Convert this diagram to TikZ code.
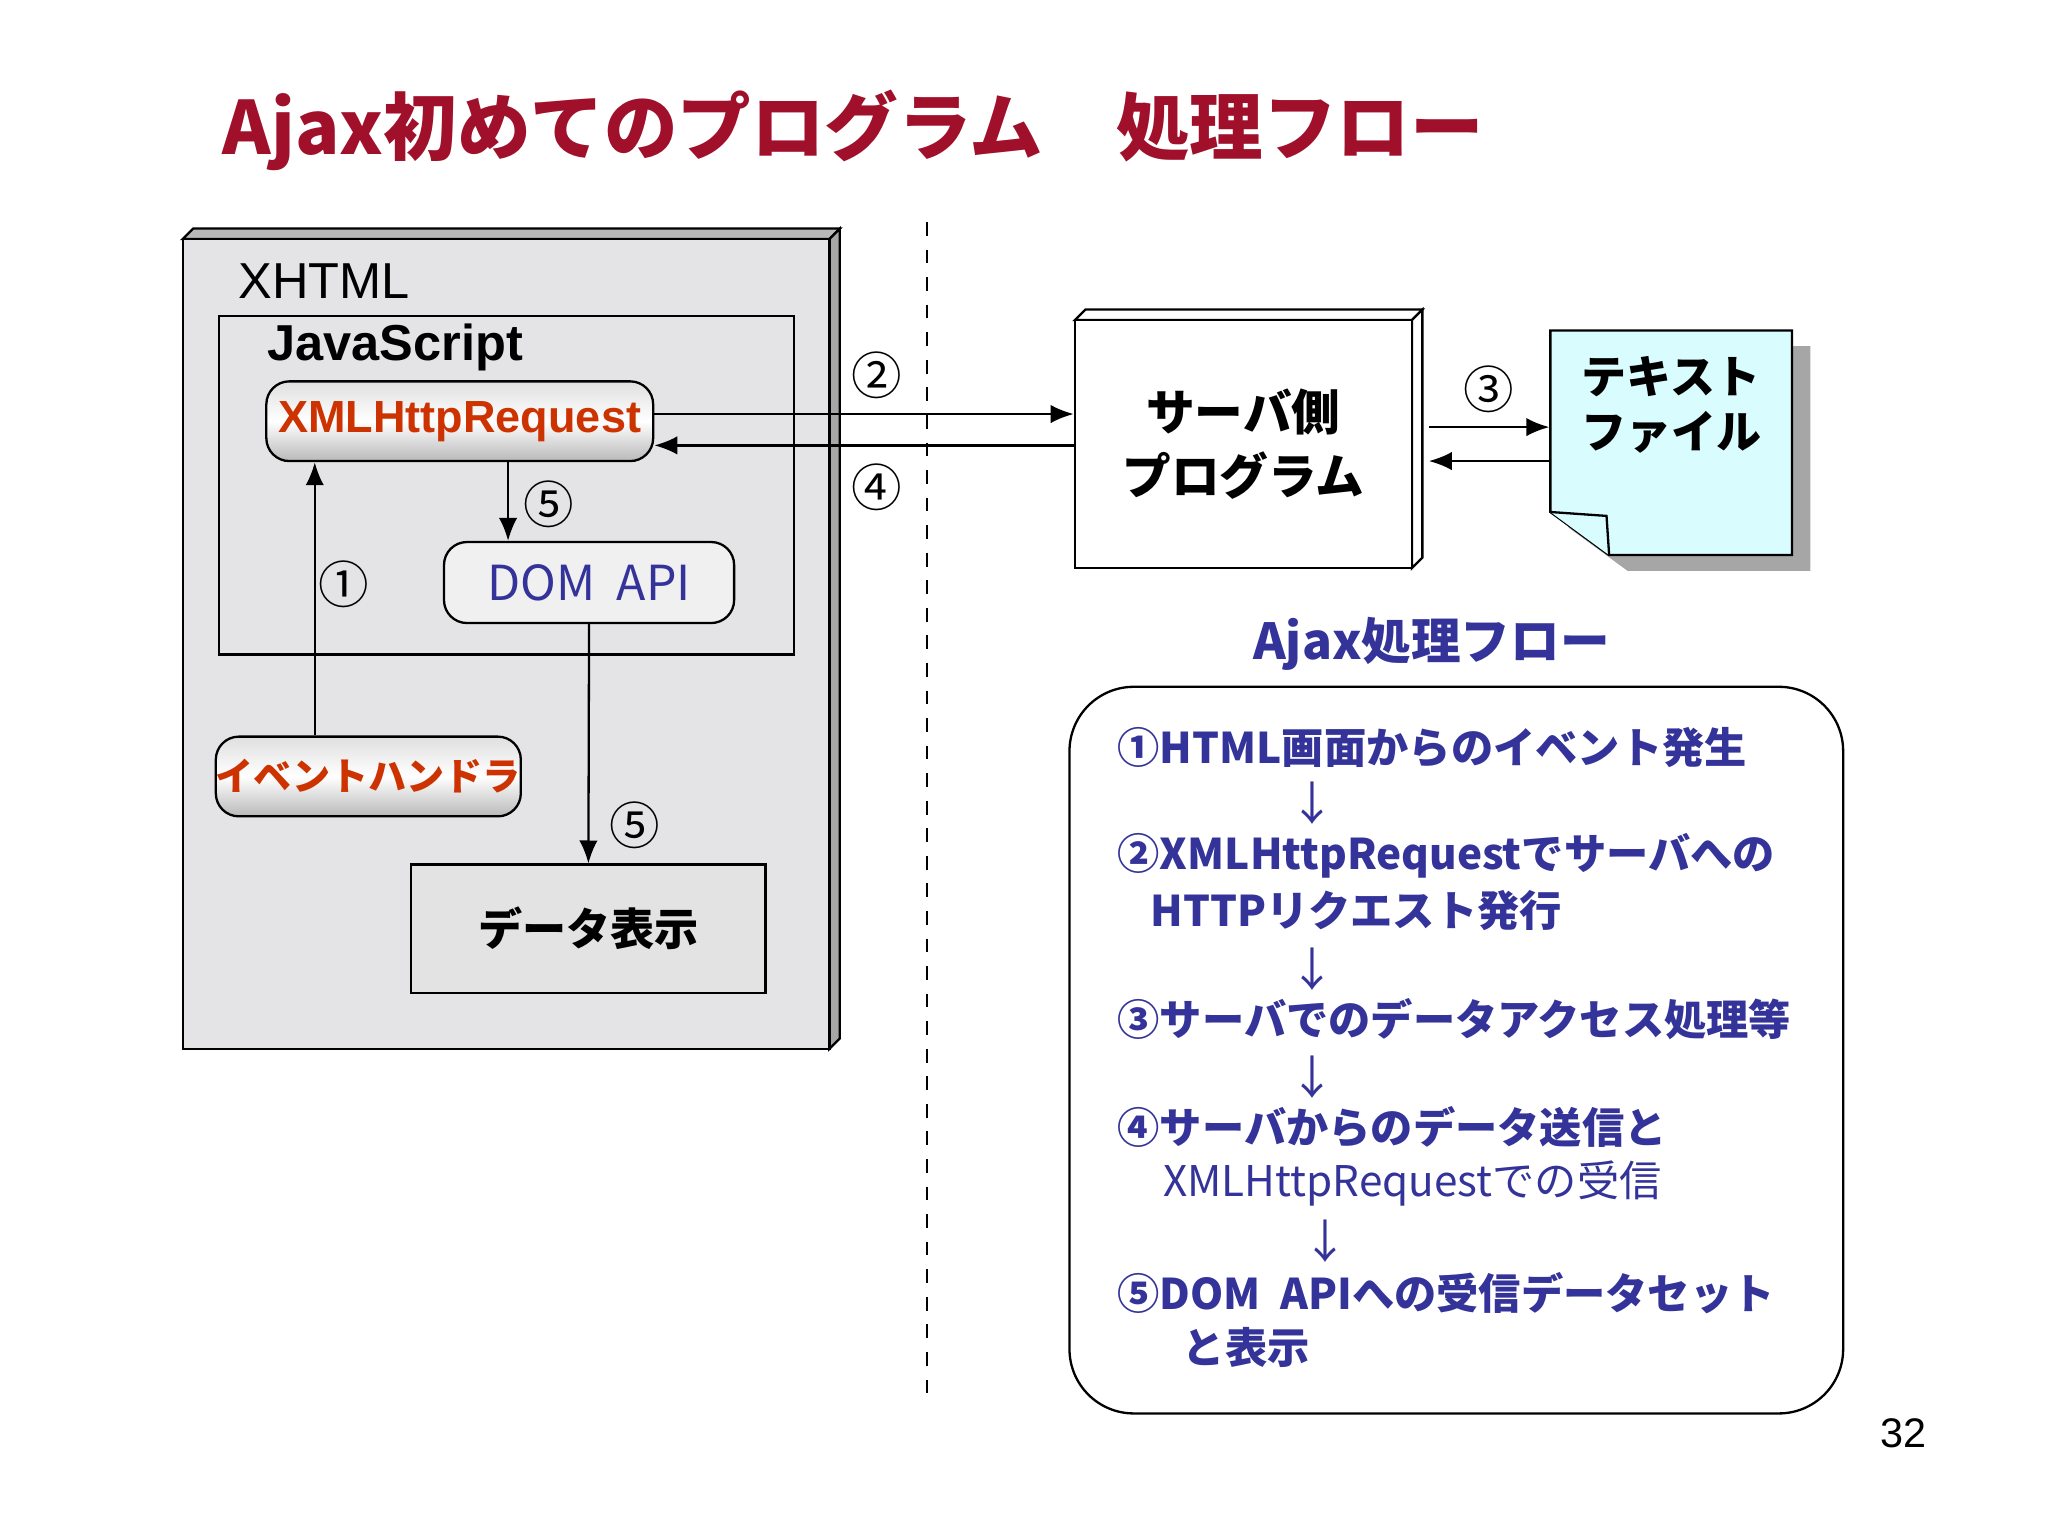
\documentclass[tikz,border=0pt]{standalone}
\usepackage{fontspec}
\setmainfont{Noto Sans CJK JP}
\newfontfamily\lat{Liberation Sans}
\usetikzlibrary{arrows.meta}
\definecolor{ttl}{HTML}{A0102A}
\definecolor{fb}{HTML}{333399}
\definecolor{orr}{HTML}{CC3300}
\definecolor{bg}{HTML}{E4E4E6}
\definecolor{cy}{HTML}{D9FCFF}
\begin{document}
\begin{tikzpicture}[x=0.01cm,y=-0.01cm,
  arr/.style={-{Latex[length=5pt,width=4pt]},line width=0.5pt},
  rbox/.style={draw,rounded corners=5pt,line width=0.5pt},
  lab/.style={font=\fontsize{11pt}{12pt}\selectfont},
  fl/.style={anchor=west,text=fb,font=\bfseries\fontsize{9.2pt}{11pt}\selectfont,inner sep=0}]
\useasboundingbox (0,0) rectangle (1568,1176);
\node[anchor=west,text=ttl,font=\bfseries\fontsize{16pt}{18pt}\selectfont,inner sep=0] (title) at (170,100) {Ajax初めてのプログラム　処理フロー};
% XHTML box
\fill[gray!55,draw=black,line width=0.5pt] (140,183)--(148,175)--(643,175)--(635,183)--cycle;
\fill[gray!70,draw=black,line width=0.5pt] (635,183)--(643,175)--(643,795)--(635,803)--cycle;
\node[draw,fill=bg,line width=0.5pt,minimum width=4.95cm,minimum height=6.2cm,inner sep=0] (xhtml) at (387.5,493) {};
\node[anchor=west,inner sep=0,font=\lat\fontsize{11pt}{12pt}\selectfont] (xt) at (182,215) {XHTML};
\node[draw,line width=0.5pt,minimum width=4.4cm,minimum height=2.59cm,inner sep=0] (js) at (388,371.5) {};
\node[anchor=west,inner sep=0,font=\lat\bfseries\fontsize{11pt}{12pt}\selectfont] (jst) at (204,266) {JavaScript};
\node[rbox,top color=gray!25,bottom color=gray!55,middle color=white,minimum width=2.96cm,minimum height=0.61cm,text=orr,font=\lat\bfseries\fontsize{9.8pt}{12pt}\selectfont,inner sep=0] (xhr) at (352,322.5) {XMLHttpRequest};
\node[rbox,fill=gray!12,minimum width=2.22cm,minimum height=0.62cm,text=fb,font=\fontsize{10.5pt}{12pt}\selectfont,inner sep=0] (dom) at (451,446) {DOM\ \ API};
\node[rbox,top color=gray!25,bottom color=gray!55,middle color=white,minimum width=2.3cm,minimum height=0.61cm,text=orr,font=\bfseries\fontsize{8.3pt}{10pt}\selectfont,inner sep=0] (ev) at (282,594.5) {イベントハンドラ};
\node[draw,fill=gray!22,line width=0.5pt,minimum width=2.71cm,minimum height=0.98cm,font=\bfseries\fontsize{9.6pt}{12pt}\selectfont,inner sep=0] (disp) at (450.5,711) {データ表示};
\draw[arr] (ev.north -| 241,0) -- (xhr.south -| 241,0);
\node[lab] (l1) at (263,447) {①};
\draw[arr] (xhr.south -| 389,0) -- (dom.north -| 389,0);
\node[lab] (l5a) at (420,386) {⑤};
\draw[arr] (dom.south) -- (disp.north);
\node[lab] (l5b) at (486,632) {⑤};
% dashed
\coordinate (d1) at (710,170); \coordinate (d2) at (710,1075);
\draw[dashed,line width=0.5pt] (d1)--(d2);
% server
\draw[fill=white,line width=0.5pt] (823,245)--(831,237)--(1089,237)--(1081,245)--cycle;
\draw[fill=white,line width=0.5pt] (1081,245)--(1089,237)--(1089,427)--(1081,435)--cycle;
\node[draw,fill=white,line width=0.5pt,minimum width=2.58cm,minimum height=1.9cm,align=center,font=\bfseries\fontsize{10.6pt}{14pt}\selectfont,inner sep=0] (srv) at (952,340) {サーバ側\\プログラム};
\draw[arr] (xhr.east |- 0,317) -- (srv.west |- 0,317);
\draw[arr] (srv.west |- 0,341) -- (xhr.east |- 0,341);
\node[lab] (l2) at (671,287) {②};
\node[lab] (l4) at (671,373) {④};
% text file
\fill[gray!70] (1201,265)--(1386,265)--(1386,437)--(1246,437)--(1201,404)--cycle;
\node[minimum width=1.85cm,minimum height=1.72cm,inner sep=0] (tf) at (1279.5,339) {};
\draw[fill=cy,line width=0.5pt] (1187,253)--(1372,253)--(1372,425)--(1232,425)--(1187,392)--cycle;
\draw[fill=cy,line width=0.5pt] (1187,392)--(1230,395)--(1232,425);
\node[anchor=west,align=left,font=\bfseries\fontsize{9.8pt}{12pt}\selectfont,inner sep=0] (tft) at (1210,310) {テキスト\\ファイル};
\draw[arr] (srv.east |- 0,327) ++(12,0) coordinate (s3) (s3) -- (tf.west |- 0,327);
\draw[arr] (tf.west |- 0,353) -- ([xshift=0.12cm]srv.east |- 0,353);
\node[lab] (l3) at (1140,298) {③};
% flow
\node[text=fb,font=\bfseries\fontsize{10.8pt}{13pt}\selectfont,inner sep=0] (ft) at (1096,493) {Ajax処理フロー};
\node[draw,rounded corners=14pt,line width=0.5pt,minimum width=5.92cm,minimum height=5.56cm,inner sep=0] (fb) at (1115,804) {};
\node[fl] (f1) at (855,572) {①HTML画面からのイベント発生};
\node[text=fb,font=\fontsize{10pt}{11pt}\selectfont] (a1) at (1005,615) {↓};
\node[fl] (f2) at (855,655) {②XMLHttpRequestでサーバへの};
\node[fl] (f2b) at (880,697) {HTTPリクエスト発行};
\node[text=fb,font=\fontsize{10pt}{11pt}\selectfont] (a2) at (1005,742) {↓};
\node[fl] (f3) at (855,780) {③サーバでのデータアクセス処理等};
\node[text=fb,font=\fontsize{10pt}{11pt}\selectfont] (a3) at (1005,825) {↓};
\node[fl] (f4) at (855,863) {④サーバからのデータ送信と};
\node[fl,font=\fontsize{9.2pt}{11pt}\selectfont] (f4b) at (890,906) {XMLHttpRequestでの受信};
\node[text=fb,font=\fontsize{10pt}{11pt}\selectfont] (a4) at (1015,950) {↓};
\node[fl] (f5) at (855,990) {⑤DOM\ \ APIへの受信データセット};
\node[fl] (f5b) at (905,1032) {と表示};
\node[font=\lat\fontsize{9pt}{10pt}\selectfont] (pg) at (1457,1097) {32};
\end{tikzpicture}
\end{document}
